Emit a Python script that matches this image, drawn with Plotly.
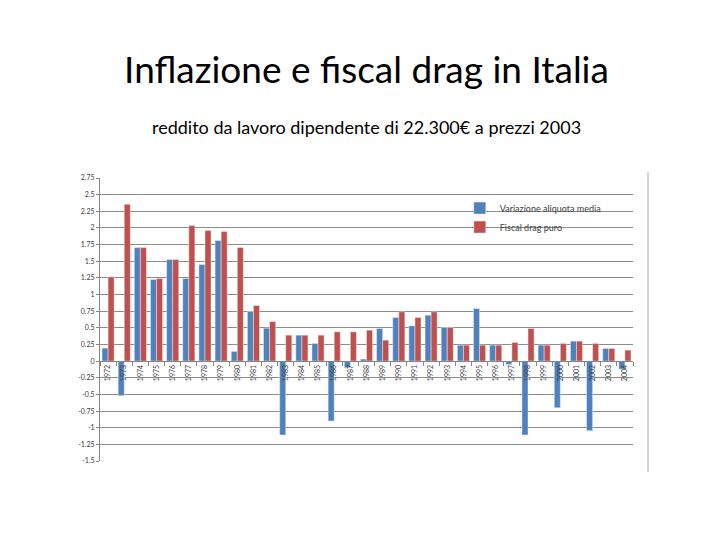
import plotly.graph_objects as go

# Anni (categorie) e valori
anni = [str(a) for a in range(1972, 2005)]

variazione_aliquota = [
    0.195, -0.52, 1.705, 1.225, 1.525, 1.24, 1.45, 1.81, 0.145, 0.745,
    0.495, -1.11, 0.39, 0.265, -0.9, -0.1, 0.03, 0.49, 0.655, 0.53,
    0.69, 0.505, 0.24, 0.79, 0.24, -0.05, -1.11, 0.24, -0.7, 0.3,
    -1.045, 0.19, -0.12,
]

fiscal_drag = [
    1.265, 2.355, 1.705, 1.24, 1.525, 2.035, 1.96, 1.945, 1.705, 0.835,
    0.595, 0.39, 0.39, 0.39, 0.44, 0.44, 0.465, 0.315, 0.74, 0.655,
    0.74, 0.505, 0.24, 0.24, 0.24, 0.28, 0.49, 0.24, 0.265, 0.3,
    0.265, 0.19, 0.165,
]

y_ticks = [2.75, 2.5, 2.25, 2, 1.75, 1.5, 1.25, 1, 0.75, 0.5, 0.25, 0,
           -0.25, -0.5, -0.75, -1, -1.25, -1.5]

FONT = "Lato, 'Open Sans', sans-serif"
y_min, y_max = -1.5, 2.75

# la pagina aggiunge circa 8px di margine: area del grafico 100..633 x 178..461
PL, PT, PW, PH = 92, 170, 533, 283

fig = go.Figure()
fig.add_trace(go.Bar(x=anni, y=variazione_aliquota,
                     name="Variazione aliquota media",
                     marker_color="#4F81BD"))
fig.add_trace(go.Bar(x=anni, y=fiscal_drag,
                     name="Fiscal drag puro",
                     marker_color="#C0504D"))

fig.update_layout(
    width=720, height=540,
    margin=dict(l=PL, r=720 - PL - PW, t=PT, b=540 - PT - PH),
    paper_bgcolor="white", plot_bgcolor="white",
    barmode="group", bargap=0.25, bargroupgap=0,
    font=dict(family=FONT, color="#404040"),
    title=dict(text="Inflazione e fiscal drag in Italia",
               x=0.5, xanchor="center", xref="paper",
               y=1 - 62 / 540, yref="container", yanchor="middle",
               font=dict(size=37, color="#000000", family=FONT)),
    annotations=[dict(
        text="reddito da lavoro dipendente di 22.300€ a prezzi 2003",
        x=0.5, xref="paper", xanchor="center",
        y=(PT + PH - 119) / PH, yref="paper", yanchor="middle",
        showarrow=False,
        font=dict(size=18, color="#000000", family=FONT))],
    legend=dict(x=0.675, y=0.945, xanchor="left", yanchor="top",
                bgcolor="rgba(0,0,0,0)",
                font=dict(size=9, color="#404040"),
                tracegroupgap=0, itemwidth=30),
    xaxis=dict(
        type="category",
        anchor="free", position=(0 - y_min) / (y_max - y_min),
        showline=True, linecolor="#868686", linewidth=1,
        ticks="outside", ticklen=4, tickcolor="#868686",
        tickson="boundaries",
        tickangle=-90, tickfont=dict(size=7, color="#404040"),
        showgrid=False, zeroline=False,
    ),
    yaxis=dict(
        range=[y_min, y_max],
        tickvals=y_ticks, ticktext=[f"{v:g}" for v in y_ticks],
        tickfont=dict(size=7, color="#404040"),
        showline=True, linecolor="#868686", linewidth=1,
        ticks="outside", ticklen=3, tickcolor="#868686",
        showgrid=True, gridcolor="#8C8C8C", gridwidth=1,
        zeroline=False,
    ),
    shapes=[dict(type="line", xref="paper", yref="paper",
                 x0=(648 - 100) / PW, x1=(648 - 100) / PW,
                 y0=(461 - 172) / PH, y1=(461 - 472) / PH,
                 line=dict(color="#A6A6A6", width=1))],
)

fig.write_html("out.html")
